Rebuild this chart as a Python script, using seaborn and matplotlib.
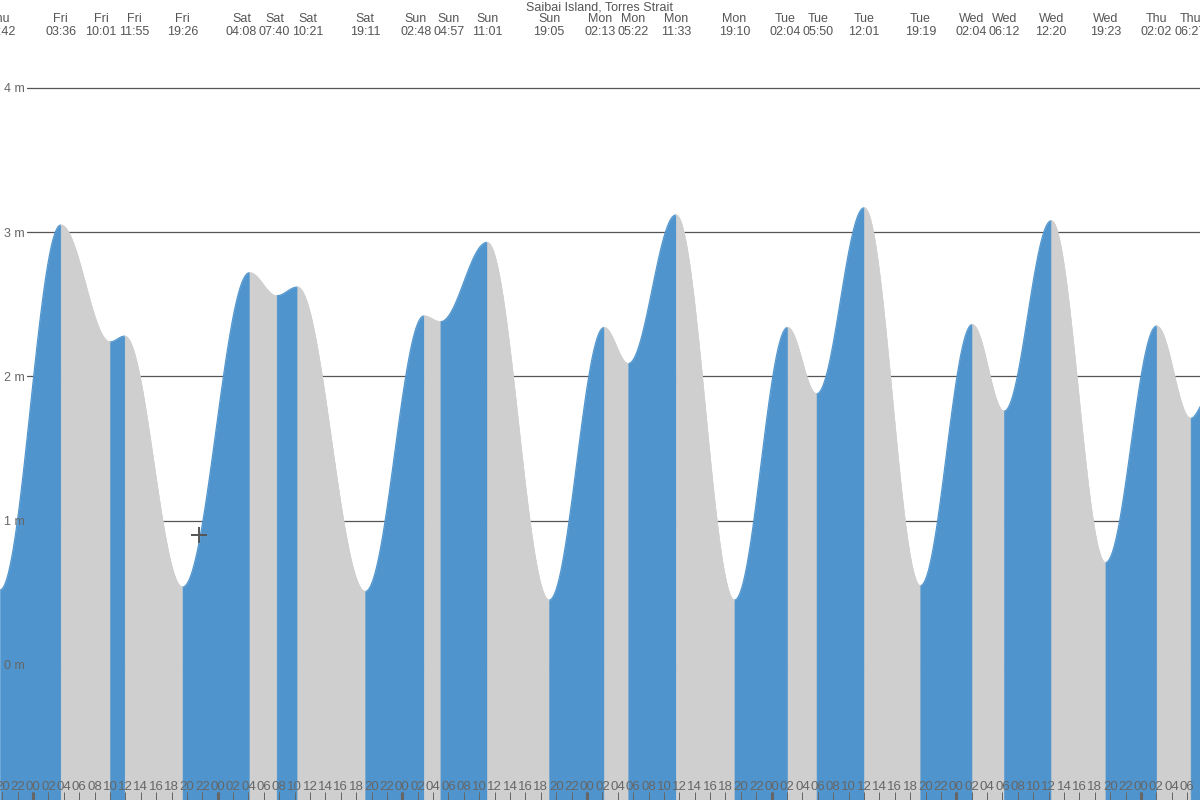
import numpy as np
import pandas as pd
import matplotlib
matplotlib.use("Agg")
import matplotlib.pyplot as plt
import matplotlib.transforms as mtransforms
import seaborn as sns

# --- Tide extremes (day, time, height in m) ---
event_days = ["Thu", "Fri", "Fri", "Fri", "Fri", "Sat", "Sat", "Sat", "Sat",
              "Sun", "Sun", "Sun", "Sun", "Mon", "Mon", "Mon", "Mon",
              "Tue", "Tue", "Tue", "Tue", "Wed", "Wed", "Wed", "Wed",
              "Thu", "Thu"]
event_times = ["19:42", "03:36", "10:01", "11:55", "19:26", "04:08", "07:40", "10:21", "19:11",
               "02:48", "04:57", "11:01", "19:05", "02:13", "05:22", "11:33", "19:10",
               "02:04", "05:50", "12:01", "19:19", "02:04", "06:12", "12:20", "19:23",
               "02:02", "06:27"]
event_heights = [0.52, 3.05, 2.24, 2.28, 0.54, 2.72, 2.56, 2.62, 0.51,
                 2.42, 2.38, 2.93, 0.45, 2.34, 2.09, 3.12, 0.45,
                 2.34, 1.88, 3.17, 0.55, 2.36, 1.76, 3.08, 0.71,
                 2.35, 1.71]
edge_height = 1.79          # level at the right edge of the window
now_time = ("Fri", "21:34")  # the small cross marker
now_height = 0.90

title = "Saibai Island, Torres Strait"
y_ticks = [0, 1, 2, 3, 4]
y_labels = ["0 m", "1 m", "2 m", "3 m", "4 m"]

BLUE = "#4f94cd"
GREY = "#cfcfcf"
TEXT = "#555555"

# hours counted from Friday 00:00
day_index = []
idx = -1
for i, d in enumerate(event_days):
    if i > 0 and d != event_days[i - 1]:
        idx += 1
    day_index.append(idx)


def to_hours(di, hhmm):
    h, m = hhmm.split(":")
    return di * 24 + int(h) + int(m) / 60


ev_t = np.array([to_hours(di, t) for di, t in zip(day_index, event_times)])
ev_h = np.array(event_heights)
x_min, x_max = -4.29, 151.67
y_min, y_max = -0.936, 4.61

# --- build the tide curve: half-cosine between successive extremes ---
rows = []
for k in range(len(ev_t) - 1):
    t0, t1, h0, h1 = ev_t[k], ev_t[k + 1], ev_h[k], ev_h[k + 1]
    tt = np.linspace(t0, t1, 80)
    hh = h0 + (h1 - h0) * (1 - np.cos(np.pi * (tt - t0) / (t1 - t0))) / 2
    phase = "rising" if h1 > h0 else "falling"
    rows.append(pd.DataFrame({"hours": tt, "height": hh, "seg": k, "phase": phase}))
# last partial piece up to the window edge
tt = np.linspace(ev_t[-1], x_max, 20)
hh = ev_h[-1] + (edge_height - ev_h[-1]) * (1 - np.cos(np.pi / 2 * (tt - ev_t[-1]) / (x_max - ev_t[-1])))
rows.append(pd.DataFrame({"hours": tt, "height": hh, "seg": len(ev_t), "phase": "rising"}))
curve = pd.concat(rows, ignore_index=True)

sns.set_theme(style="white")
plt.rcParams["font.family"] = ["Liberation Sans", "DejaVu Sans"]

fig = plt.figure(figsize=(12, 8), dpi=100)
ax = fig.add_axes([0, 0, 1, 1])
ax.set_xlim(x_min, x_max)
ax.set_ylim(y_min, y_max)
ax.set_axisbelow(False)

# gridlines behind the fill
for yv in y_ticks:
    ax.axhline(yv, xmin=27 / 1200, xmax=1, color="#555555", lw=0.9, zorder=0.5)

palette = {"rising": BLUE, "falling": GREY}
for seg, g in curve.groupby("seg"):
    c = palette[g["phase"].iloc[0]]
    ax.fill_between(g["hours"], g["height"], y_min, facecolor=c, edgecolor=c,
                    lw=0.4, zorder=1)
sns.lineplot(data=curve, x="hours", y="height", units="seg", estimator=None, hue="phase",
             palette=palette, legend=False, lw=0.8, ax=ax, zorder=1.2, sort=False)

# "now" cross
ax.plot(to_hours(0, now_time[1]), now_height, marker="+", ms=11, mew=1.4,
        color="#555555", zorder=3)

# y labels drawn inside the plot
ax.set_yticks(y_ticks)
ax.set_yticklabels(y_labels)
ax.tick_params(axis="y", length=0, pad=-3, labelsize=9, labelcolor="#666666")
for lab in ax.get_yticklabels():
    lab.set_horizontalalignment("left")

# hour labels every 2 h, thick tick at midnight
hour_ticks = np.arange(-4, 151, 2)
ax.set_xticks(hour_ticks)
ax.set_xticklabels([f"{int(h) % 24:02d}" for h in hour_ticks])
ax.tick_params(axis="x", direction="in", length=5.8, width=0.72, pad=-14,
               labelsize=9.5, labelcolor="#666666", color="#666666", bottom=True)
ax.xaxis.remove_overlapping_locs = False
ax.set_xticks(np.arange(0, 151, 24), minor=True)
ax.tick_params(axis="x", which="minor", direction="in", length=5.8, width=2.2,
               color="#666666", bottom=True)
ax.set_xlabel("")
ax.set_ylabel("")
for s in ax.spines.values():
    s.set_visible(False)

# high / low labels along the top, pushed apart where they would collide
min_gap = 33 / (1200 / (x_max - x_min))
lab_x = ev_t.copy()
for _ in range(200):
    moved = False
    for k in range(len(lab_x) - 1):
        gap = lab_x[k + 1] - lab_x[k]
        if gap < min_gap - 1e-6:
            shift = (min_gap - gap) / 2
            lab_x[k] -= shift
            lab_x[k + 1] += shift
            moved = True
    if not moved:
        break

trans = mtransforms.blended_transform_factory(ax.transData, ax.transAxes)
for d, t, x in zip(event_days, event_times, lab_x):
    ax.text(x, 1 - 19 / 800, d, transform=trans, ha="center", va="center",
            fontsize=9, color=TEXT)
    ax.text(x, 1 - 32 / 800, t, transform=trans, ha="center", va="center",
            fontsize=9, color=TEXT)
ax.text(0.5, 1 - 8 / 800, title, transform=ax.transAxes, ha="center", va="center",
        fontsize=9, color=TEXT)

fig.savefig("out.png", dpi=100)
